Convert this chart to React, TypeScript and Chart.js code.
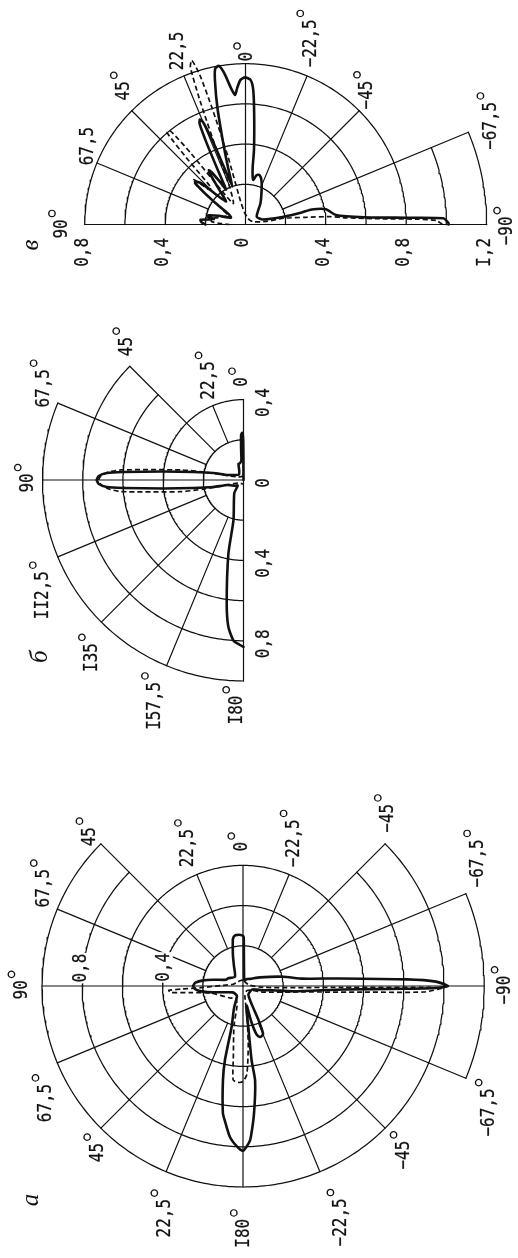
import React, { useEffect, useRef } from "react";
import { Chart, registerables } from "chart.js";

Chart.register(...registerables);

// ================= DATA =================
// Each curve: [angle in degrees (0 = up in the picture, 90 = left), radius]

// ---- diagram а ----
const aSolid: [number, number][] = [
  [-30, 0.04], [-14, 0.03], [-5, 0.06], [-1.2, 0.2], [-0.7, 0.245], [1, 0.252], [4.5, 0.256], [9, 0.255],
  [12, 0.24], [14.3, 0.206], [18.4, 0.158], [24.2, 0.11], [41, 0.061], [62.4, 0.083], [70, 0.09], [78, 0.15],
  [82, 0.2], [86, 0.237], [90, 0.248], [94, 0.237], [98, 0.2], [102, 0.15], [110, 0.09], [122, 0.06],
  [140, 0.055], [150, 0.06], [158, 0.12], [164.4, 0.21], [166.3, 0.38], [168, 0.48], [171, 0.64], [172.3, 0.676],
  [175, 0.753], [177.9, 0.8], [180, 0.82], [182.2, 0.78], [183, 0.751], [185, 0.632], [187.3, 0.474], [186.6, 0.372],
  [187.4, 0.2], [189, 0.1], [191, 0.1], [193, 0.18], [195.6, 0.25], [198.4, 0.267], [201, 0.265], [203, 0.255],
  [204.6, 0.18], [205.5, 0.1], [212, 0.05], [235, 0.045], [250, 0.05], [258, 0.1], [262, 0.15], [264, 0.25],
  [268, 0.5], [269, 0.8], [269.4, 0.96], [270, 1.02], [271.3, 0.96], [272.3, 0.816], [274.5, 0.48], [277, 0.3],
  [283, 0.205], [297, 0.095], [315, 0.05], [330, 0.04],
];
const aDashed: [number, number][] = [
  [0, 0.03], [30, 0.03], [60, 0.035], [80, 0.05], [88, 0.1], [92.3, 0.21], [92.8, 0.3], [93.4, 0.37],
  [95.2, 0.36], [97.2, 0.26], [102, 0.165], [132.7, 0.088], [150, 0.07], [163.3, 0.104], [167.3, 0.205],
  [172.2, 0.353], [174, 0.47], [177, 0.48], [180, 0.475], [182.5, 0.44], [185, 0.3], [187.6, 0.15], [191, 0.05],
  [220, 0.03], [245, 0.05], [253, 0.104], [264.3, 0.3], [267.1, 0.6], [268.1, 0.9], [269.4, 0.99], [269.6, 0.9],
  [269.2, 0.5], [266, 0.1], [280, 0.03], [360, 0.03],
];
const aRings = [0.2, 0.4, 0.6, 0.8, 1.0, 1.2];
const aAngleTicks = [0, 22.5, 45, 67.5, 90, 112.5, 135, 157.5, 180, 202.5, 225, 247.5, 270, 292.5, 315, 337.5];
const aAngleLabels = ["0", "22,5", "45", "67,5", "90", "67,5", "45", "22,5", "I80", "−22,5", "−45", "−67,5", "−90", "−67,5", "−45", "−22,5"];
const aRadialTicks = [0.4, 0.8];
const aRadialLabels = ["0,4", "0,8"];

// ---- diagram б ----
const bSolid: [number, number][] = [
  [0, 0], [0.3, 0.1], [0.5, 0.2], [1.5, 0.235], [3, 0.225], [4.5, 0.15], [6, 0.1], [12, 0.085], [17, 0.085],
  [25, 0.05], [40, 0.035], [60, 0.05], [72.6, 0.084], [76.9, 0.154], [80.9, 0.253], [84, 0.402], [86.2, 0.601],
  [87.05, 0.681], [88.4, 0.72], [90, 0.73], [91.6, 0.72], [92.95, 0.681], [93.8, 0.601], [96, 0.402], [99.1, 0.253],
  [103.1, 0.154], [107.4, 0.084], [125, 0.05], [134, 0.04], [145, 0.08], [166, 0.206], [168.4, 0.373],
  [172.2, 0.616], [174.1, 0.734], [176.4, 0.8], [178.6, 0.82], [180, 0.83],
];
const bDashed: [number, number][] = [
  [0, 0.02], [30, 0.02], [60, 0.03], [76, 0.103], [78.7, 0.204], [80.8, 0.314], [85.3, 0.612], [86.6, 0.671],
  [88.4, 0.71], [90, 0.72], [91.8, 0.71], [93.8, 0.672], [95.4, 0.613], [100.6, 0.315], [102.7, 0.205],
  [105.6, 0.104], [120, 0.03], [180, 0.02],
];
const bRings = [0.2, 0.4, 0.6, 0.8, 1.0];
const bAngleTicks = [0, 22.5, 45, 67.5, 90, 112.5, 135, 157.5, 180];
const bAngleLabels = ["0", "22,5", "45", "67,5", "90", "II2,5", "I35", "I57,5", "I80"];
const bRadialTicks = [0.4, 0, -0.4, -0.8];
const bRadialLabels = ["0,4", "0", "0,4", "0,8"];

// ---- diagram в ----
const vSolid: [number, number][] = [
  [-90, 1.01], [-89.6, 1.01], [-88.2, 0.985], [-87.6, 0.8], [-86.5, 0.591], [-84, 0.452], [-79.2, 0.407],
  [-77.2, 0.338], [-77.9, 0.286], [-78.4, 0.194], [-73.8, 0.09], [-55, 0.068], [-35, 0.13], [-23.2, 0.205],
  [-19, 0.24], [-16, 0.255], [-14.5, 0.256], [-12.5, 0.25], [-10, 0.225], [-8.5, 0.24], [-7.1, 0.29],
  [-6.5, 0.373], [-4.5, 0.55], [-3.3, 0.67], [-2, 0.72], [0.2, 0.732], [2, 0.72], [3.5, 0.68], [4.6, 0.646],
  [6, 0.68], [8, 0.76], [9.5, 0.8], [11, 0.79], [12, 0.73], [13.5, 0.6], [15.3, 0.42], [17, 0.3], [19, 0.2],
  [20.5, 0.3], [21.5, 0.45], [22.5, 0.55], [23.5, 0.57], [24.5, 0.55], [25.5, 0.45], [27, 0.3], [29, 0.2],
  [31, 0.25], [33, 0.31], [34, 0.326], [35, 0.31], [37, 0.22], [40, 0.15], [44, 0.2], [47, 0.3], [49.6, 0.33],
  [51, 0.31], [54, 0.2], [58, 0.1], [65, 0.08], [72, 0.14], [76, 0.19], [78, 0.195], [80, 0.16], [82, 0.18],
  [84, 0.225], [87, 0.22], [90, 0.2],
];
const vDashed: [number, number][] = [
  [-90, 0.98], [-88.8, 0.95], [-88.2, 0.85], [-87.7, 0.7], [-86.2, 0.501], [-84.7, 0.422], [-83.2, 0.302],
  [-80.7, 0.193], [-81.5, 0.101], [-70, 0.04], [-40, 0.03], [-10, 0.04], [5, 0.06], [12, 0.12], [14.5, 0.35],
  [16, 0.6], [17, 0.78], [18.1, 0.86], [19.3, 0.83], [20.2, 0.65], [21.2, 0.4], [23, 0.2], [30, 0.12], [35, 0.2],
  [37.5, 0.45], [38.8, 0.6], [40.5, 0.6], [41.5, 0.45], [43, 0.25], [46, 0.25], [49, 0.34], [51, 0.33],
  [54, 0.2], [62, 0.1], [72, 0.12], [80, 0.17], [85, 0.17], [88, 0.12], [90, 0.08],
];
const vRings = [0.2, 0.4, 0.6, 0.8, 1.0, 1.2];
const vAngleTicks = [90, 67.5, 45, 22.5, 0, -22.5, -45, -67.5, -90];
const vAngleLabels = ["90", "67,5", "45", "22,5", "0", "−22,5", "−45", "−67,5", "−90"];
const vAngleDegree = [true, false, true, false, true, true, true, true, true];
const vRadialTicks = [-0.8, -0.4, 0, 0.4, 0.8, 1.2];
const vRadialLabels = ["0,8", "0,4", "0", "0,4", "0,8", "I,2"];

// ================= LAYOUT =================
const U = 201; // pixels per radial unit
const PAGE_W = 518;

type Label = { text: string; x: number; y: number; deg?: boolean; bg?: boolean; align?: CanvasTextAlign; italic?: boolean };
type Spec = {
  top: number; height: number; cx: number; cy: number;
  rings: { r: number; from: number; to: number }[];
  spokes: { phi: number; r0: number; r1: number }[];
  solid: [number, number][]; dashed: [number, number][];
  labels: Label[];
};

const toXY = (phi: number, r: number) => {
  const t = (phi * Math.PI) / 180;
  return { x: -r * Math.sin(t), y: r * Math.cos(t) };
};

function build(
  base: { top: number; height: number; cx: number; cy: number },
  rings: number[], ringSpan: [number, number][],
  spokeAngles: number[], spokeSpan: [number, number][],
  solid: [number, number][], dashed: [number, number][],
  angleLabels: string[], anglePos: [number, number][], angleDeg: boolean[],
  radial: Label[], letter: Label
): Spec {
  const labels: Label[] = [];
  angleLabels.forEach((t, i) => {
    const p = toXY(anglePos[i][0], anglePos[i][1]);
    labels.push({ text: t, x: p.x, y: p.y, deg: angleDeg[i] });
  });
  return {
    ...base,
    rings: rings.map((r, i) => ({ r, from: ringSpan[i][0], to: ringSpan[i][1] })),
    spokes: spokeAngles.map((phi, i) => ({ phi, r0: spokeSpan[i][0], r1: spokeSpan[i][1] })),
    solid, dashed,
    labels: [...labels, ...radial, letter],
  };
}

const specA = build(
  { top: 760, height: 498, cx: 243, cy: 226 },
  aRings, [[0, 360], [0, 360], [0, 360], [45, 315], [45, 315], [247.5, 292.5]],
  aAngleTicks,
  [[0, 0.6], [0.2, 0.6], [0.2, 1], [0.2, 1], [0, 1], [0.2, 1], [0.2, 1], [0.2, 1], [0, 1], [0.2, 1], [0.2, 1],
   [0.2, 1.2], [0, 1.2], [0.2, 1.2], [0.2, 1], [0.2, 0.6]],
  aSolid, aDashed, aAngleLabels,
  [[0.5, 0.693], [21.6, 0.738], [45.7, 1.064], [63.8, 1.102], [91, 1.1], [120.7, 1.14], [138.9, 1.1],
   [161.4, 1.219], [180.3, 1.23], [202.5, 1.273], [223.6, 1.162], [242.8, 1.377], [269.1, 1.304],
   [297.6, 1.317], [319.1, 1.104], [340.3, 0.754]],
  aAngleTicks.map(() => true),
  aRadialTicks.map((v, i) => {
    const p = toXY(i === 0 ? 76.8 : 83.7, v * 1.012);
    return { text: aRadialLabels[i], x: p.x, y: p.y, bg: true };
  }),
  { text: "а", x: -1.051, y: -1.065, italic: true }
);

const specB = build(
  { top: 320, height: 440, cx: 243.5, cy: 160 },
  bRings, [[0, 180], [0, 180], [45, 180], [45, 180], [67.5, 180]],
  bAngleTicks,
  [[0, 0.4], [0.2, 0.4], [0.2, 0.8], [0.2, 1], [0, 1], [0.2, 1], [0.2, 1], [0.2, 1], [0, 1]],
  bSolid, bDashed, bAngleLabels,
  [[0.6, 0.488], [19.1, 0.524], [41.2, 0.882], [65.3, 1.092], [90.8, 1.071], [119.9, 1.149], [139.6, 1.16],
   [158.7, 1.206], [178.3, 1.145]],
  bAngleTicks.map(() => true),
  bRadialTicks.map((v, i) => ({ text: bRadialLabels[i], x: 0.102, y: v - 0.015 })),
  { text: "б", x: -1.012, y: -0.879, italic: true }
);

const specV = build(
  { top: 0, height: 320, cx: 245.5, cy: 224.5 },
  vRings, [[-90, 90], [-90, 90], [-90, 90], [-90, 90], [-90, -67.5], [-90, -67.5]],
  vAngleTicks,
  [[0, 0.8], [0.2, 0.8], [0.2, 0.8], [0.2, 0.8], [0, 0.8], [0.2, 0.8], [0.2, 0.8], [0.2, 1.2], [0, 1.2]],
  vSolid, vDashed, vAngleLabels,
  [[91.4, 0.911], [63.5, 0.874], [42.2, 0.898], [21.2, 0.926], [-0.7, 0.835], [-19.8, 0.958], [-43.3, 0.885],
   [-68.1, 1.316], [-91.4, 1.304]],
  vAngleDegree,
  vRadialTicks.map((v, i) => ({ text: vRadialLabels[i], x: v - 0.01, y: -0.067, align: "right" as CanvasTextAlign })),
  { text: "в", x: -1.064, y: -0.102, italic: true }
);

// ================= COMPONENTS =================
function arcPts(r: number, from: number, to: number) {
  const n = Math.max(2, Math.ceil(Math.abs(to - from)));
  const pts = [];
  for (let i = 0; i <= n; i++) pts.push(toXY(from + ((to - from) * i) / n, r));
  return pts;
}

const INK = "#111";

function PolarPanel({ spec }: { spec: Spec }) {
  const ref = useRef<HTMLCanvasElement>(null);
  useEffect(() => {
    const canvas = ref.current!;
    const line = (data: any[], width: number, dash: number[], order: number, tension = 0) => ({
      data, showLine: true, pointRadius: 0, pointHoverRadius: 0, borderColor: INK,
      borderWidth: width, borderDash: dash, fill: false, tension, order,
      borderCapStyle: dash.length ? "butt" : "round", borderJoinStyle: "round",
    });
    const datasets: any[] = [];
    datasets.push(line(spec.solid.map(([a, r]) => toXY(a, r)), 2.6, [], 0, 0.2));
    datasets.push(line(spec.dashed.map(([a, r]) => toXY(a, r)), 1.7, [5, 3], 1, 0.2));
    spec.rings.forEach((g) => datasets.push(line(arcPts(g.r, g.from, g.to), 1.25, [], 2)));
    spec.spokes.forEach((s) => datasets.push(line([toXY(s.phi, s.r0), toXY(s.phi, s.r1)], 1.2, [], 2)));

    const labels = spec.labels;
    const labelPlugin = {
      id: "polarLabels",
      afterDatasetsDraw(chart: any) {
        const ctx: CanvasRenderingContext2D = chart.ctx;
        const xs = chart.scales.x, ys = chart.scales.y;
        for (const L of labels) {
          const px = xs.getPixelForValue(L.x), py = ys.getPixelForValue(L.y);
          ctx.save();
          ctx.translate(px, py);
          ctx.rotate(-Math.PI / 2);
          ctx.fillStyle = INK;
          ctx.textBaseline = "middle";
          if (L.italic) {
            ctx.font = "italic 25px 'Liberation Serif'";
            ctx.textAlign = "center";
            ctx.fillText(L.text, 0, 0);
            ctx.restore();
            continue;
          }
          ctx.scale(0.84, 1);
          ctx.font = "19px 'DejaVu Sans Mono'";
          ctx.textAlign = L.align || "center";
          const w = ctx.measureText(L.text).width;
          if (L.bg) {
            ctx.fillStyle = "#fff";
            ctx.fillRect(-w / 2 - 1, -9, w + 2, 18);
            ctx.fillStyle = INK;
          }
          ctx.fillText(L.text, 0, 0);
          ctx.lineWidth = 0.25;
          ctx.strokeStyle = INK;
          ctx.strokeText(L.text, 0, 0);
          if (L.deg) {
            ctx.beginPath();
            ctx.ellipse(w / 2 + 7, -10.5, 3.2 / 0.84, 3.2, 0, 0, Math.PI * 2);
            ctx.lineWidth = 1.4;
            ctx.stroke();
          }
          ctx.restore();
        }
      },
    };

    const chart = new Chart(canvas, {
      type: "scatter",
      data: { datasets },
      options: {
        responsive: false,
        maintainAspectRatio: false,
        animation: false,
        devicePixelRatio: 1,
        events: [],
        layout: { padding: 0 },
        plugins: { legend: { display: false }, tooltip: { enabled: false }, title: { display: false } },
        scales: {
          x: { type: "linear", display: false, min: -spec.cx / U, max: (PAGE_W - spec.cx) / U },
          y: { type: "linear", display: false, min: -(spec.height - spec.cy) / U, max: spec.cy / U },
        },
      } as any,
      plugins: [labelPlugin],
    });
    return () => chart.destroy();
  }, [spec]);
  return (
    <canvas
      ref={ref}
      width={PAGE_W}
      height={spec.height}
      style={{ position: "absolute", left: 0, top: spec.top, width: PAGE_W, height: spec.height, display: "block" }}
    />
  );
}

export default function App() {
  return (
    <div style={{ position: "absolute", left: 0, top: 0, width: PAGE_W, height: 1258, background: "#fff", overflow: "hidden" }}>
      <PolarPanel spec={specV} />
      <PolarPanel spec={specB} />
      <PolarPanel spec={specA} />
    </div>
  );
}
